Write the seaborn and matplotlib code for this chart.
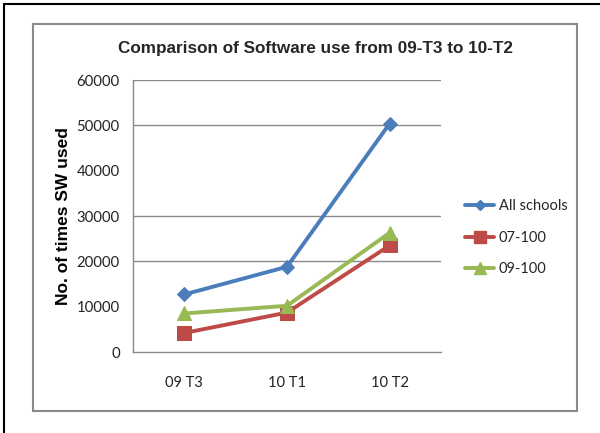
import matplotlib
matplotlib.use("Agg")
import matplotlib.pyplot as plt
import seaborn as sns
import pandas as pd
from matplotlib.patches import Rectangle
from matplotlib.lines import Line2D

categories = ["09 T3", "10 T1", "10 T2"]
all_schools = [12700, 18800, 50400]
s07_100 = [4200, 8700, 23500]
s09_100 = [8500, 10200, 26300]
series_names = ["All schools", "07-100", "09-100"]
y_ticks = [0, 10000, 20000, 30000, 40000, 50000, 60000]
grid_values = [20000, 30000, 50000, 60000]

rows = []
for name, vals in zip(series_names, [all_schools, s07_100, s09_100]):
    for c, v in zip(categories, vals):
        rows.append({"cat": c, "value": v, "series": name})
df = pd.DataFrame(rows)

sns.set_theme(style="white")
plt.rcParams["font.family"] = ["Lato", "DejaVu Sans"]

fig = plt.figure(figsize=(6.0, 4.33), dpi=100)
ax = fig.add_axes([133/600, 1-352/433, (441-133)/600, (352-80)/433])

palette = {"All schools": "#4A7EBB", "07-100": "#BE4B48", "09-100": "#98B954"}
markers = {"All schools": "D", "07-100": "s", "09-100": "^"}
sizes = {"All schools": 7, "07-100": 10, "09-100": 10}

for name in series_names:
    sub = df[df.series == name]
    sns.lineplot(data=sub, x="cat", y="value", ax=ax, color=palette[name],
                 marker=markers[name], markersize=sizes[name], linewidth=2.8,
                 markeredgecolor=palette[name], sort=False, label=name, legend=False)

ax.set_xlim(-0.5, 2.5)
ax.set_ylim(0, 60000)
ax.set_yticks(y_ticks)
ax.set_yticklabels([str(t) for t in y_ticks])
for g in grid_values:
    ax.axhline(g, color="#8a8a8a", linewidth=1.0, zorder=0)
ax.set_xlabel("")
ax.set_ylabel("No. of times SW used", fontsize=12.5, fontweight="bold",
              family=["Liberation Sans", "DejaVu Sans"], labelpad=4, color="black")
ax.tick_params(axis="both", length=0, labelsize=10.5, colors="#222222")
ax.tick_params(axis="y", pad=9.5, labelsize=10.7)
ax.tick_params(axis="x", pad=17)
for s in ["top", "right"]:
    ax.spines[s].set_visible(False)
for s in ["left", "bottom"]:
    ax.spines[s].set_color("#8a8a8a")
    ax.spines[s].set_linewidth(1.0)

fig.text(315/600, 1-48/433, "Comparison of Software use from 09-T3 to 10-T2",
         ha="center", va="center", fontsize=12.3, fontweight="bold",
         family=["Liberation Sans", "DejaVu Sans"])

handles = [Line2D([0], [0], color=palette[n], marker=markers[n], markersize=sizes[n] * 0.8,
                  linewidth=2.8) for n in series_names]
leg = fig.legend(handles, series_names, loc="upper left",
                 bbox_to_anchor=(452/600, 1-186/433), frameon=False,
                 fontsize=10.5, handlelength=2.0, labelspacing=1.2, handletextpad=0.3)

# outer frames
fig.patches.append(Rectangle((33/600, 1-411/433), (577-33)/600, (411-24)/433,
                             transform=fig.transFigure, fill=False,
                             edgecolor="#8a8a8a", linewidth=1.5))
fig.lines.append(Line2D([4/600, 4/600], [0, 1-4/433], transform=fig.transFigure,
                        color="black", linewidth=1.5))
fig.lines.append(Line2D([4/600, 1], [1-4/433, 1-4/433], transform=fig.transFigure,
                        color="black", linewidth=1.5))

fig.savefig("out.png", dpi=100)
